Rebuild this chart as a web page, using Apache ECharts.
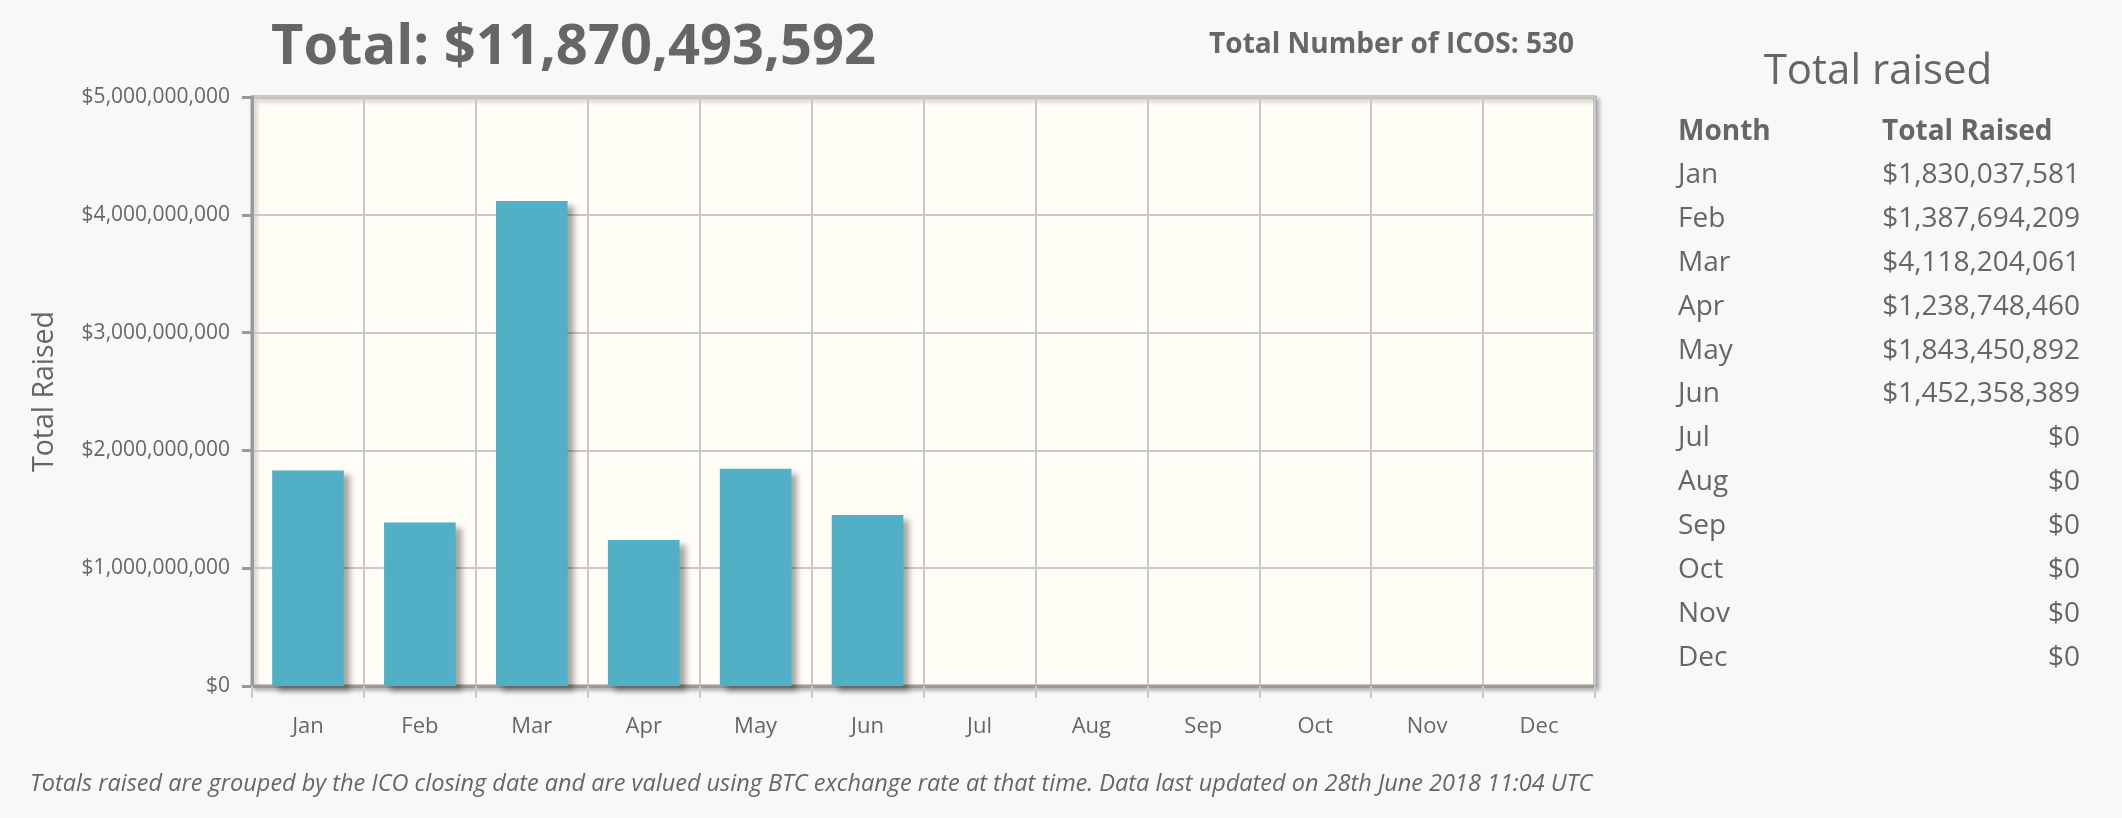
<!DOCTYPE html>
<html>
<head>
<meta charset="utf-8">
<script src="https://cdn.jsdelivr.net/npm/echarts@6/dist/echarts.min.js"></script>
<style>
html,body{margin:0;padding:0;background:#f8f8f8;}
#chart{width:2122px;height:818px;}
</style>
</head>
<body>
<div id="chart"></div>
<script>
const months = ['Jan','Feb','Mar','Apr','May','Jun','Jul','Aug','Sep','Oct','Nov','Dec'];
const totalRaised = [1830037581,1387694209,4118204061,1238748460,1843450892,1452358389,0,0,0,0,0,0];
const totalIcos = 530;
const yTicks = [0,1000000000,2000000000,3000000000,4000000000,5000000000];
const footnote = 'Totals raised are grouped by the ICO closing date and are valued using BTC exchange rate at that time. Data last updated on 28th June 2018 11:04 UTC';

const fmt = v => '$' + Math.round(v).toLocaleString('en-US');
const total = totalRaised.reduce((a,b)=>a+b,0);
const textColor = '#666';
const font = '"Open Sans", sans-serif';

const chart = echarts.init(document.getElementById('chart'));

const graphics = [
  {type:'text', left:271, top:20, style:{text:'Total: ' + fmt(total), font:'bold 56px "Open Sans"', fill:textColor}},
  {type:'text', x:1574, y:45, style:{text:'Total Number of ICOS: ' + totalIcos, font:'bold 28px "Open Sans"', fill:textColor, align:'right', verticalAlign:'middle'}},
  {type:'text', x:1878, y:72, style:{text:'Total raised', font:'42px "Open Sans"', fill:textColor, align:'center', verticalAlign:'middle'}},
  {type:'text', x:1678, y:132, style:{text:'Month', font:'bold 28px "Open Sans"', fill:textColor, align:'left', verticalAlign:'middle'}},
  {type:'text', x:1882, y:132, style:{text:'Total Raised', font:'bold 28px "Open Sans"', fill:textColor, align:'left', verticalAlign:'middle'}},
  {type:'text', x:30, y:784, style:{text:footnote, font:'italic 23.5px "Open Sans"', fill:textColor, align:'left', verticalAlign:'middle'}}
];
months.forEach((m,i)=>{
  const y = 175 + i*43.9;
  graphics.push({type:'text', x:1678, y:y, style:{text:m, font:'28px "Open Sans"', fill:textColor, align:'left', verticalAlign:'middle'}});
  graphics.push({type:'text', x:2080, y:y, style:{text:fmt(totalRaised[i]), font:'28px "Open Sans"', fill:textColor, align:'right', verticalAlign:'middle'}});
});

chart.setOption({
  backgroundColor:'#f8f8f8',
  animation:false,
  textStyle:{fontFamily:font},
  grid:{
    left:252, top:97, right:527, bottom:132,
    show:true, backgroundColor:'#fffdf6', borderColor:'#9a9a9a', borderWidth:3,
    shadowColor:'rgba(0,0,0,0.25)', shadowBlur:4, shadowOffsetX:3, shadowOffsetY:3
  },
  xAxis:{
    type:'category', data:months, boundaryGap:true,
    axisLine:{lineStyle:{color:'#9a9a9a', width:3}},
    axisTick:{show:true, length:12, lineStyle:{color:'#c8c8c8', width:2}},
    splitLine:{show:true, lineStyle:{color:'#c8c8c8', width:2}},
    axisLabel:{color:textColor, fontSize:22, margin:30, fontFamily:font}
  },
  yAxis:{
    type:'value', min:yTicks[0], max:yTicks[yTicks.length-1], interval:yTicks[1]-yTicks[0],
    name:'Total Raised', nameLocation:'middle', nameGap:193,
    nameTextStyle:{color:textColor, fontSize:28.5, fontFamily:font},
    axisLine:{show:true, lineStyle:{color:'#9a9a9a', width:3}},
    axisTick:{show:true, length:10, lineStyle:{color:'#9a9a9a', width:3}},
    splitLine:{show:true, lineStyle:{color:'#c8c8c8', width:2}},
    axisLabel:{color:textColor, fontSize:21, margin:22, fontFamily:font, formatter:v=>fmt(v)}
  },
  series:[{
    type:'bar', data:totalRaised, barWidth:'64%',
    itemStyle:{color:'#52b0c6', shadowColor:'rgba(0,0,0,0.35)', shadowBlur:6, shadowOffsetX:6, shadowOffsetY:5},
    silent:true
  }],
  graphic:graphics
});
</script>
</body>
</html>
